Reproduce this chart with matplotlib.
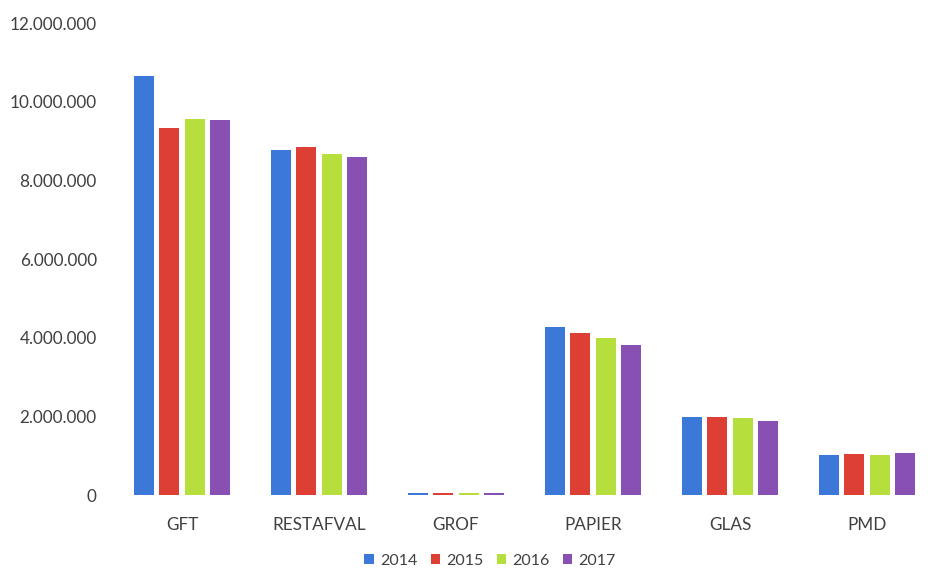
import matplotlib
matplotlib.use("Agg")
import matplotlib.pyplot as plt
import numpy as np
from matplotlib.ticker import FuncFormatter

categories = ["GFT", "RESTAFVAL", "GROF", "PAPIER", "GLAS", "PMD"]
years = ["2014", "2015", "2016", "2017"]
values_2014 = [10660000, 8780000, 60000, 4270000, 1980000, 1020000]
values_2015 = [9340000, 8860000, 40000, 4110000, 1980000, 1050000]
values_2016 = [9570000, 8680000, 50000, 4000000, 1950000, 1020000]
values_2017 = [9540000, 8600000, 40000, 3810000, 1880000, 1070000]
series = [values_2014, values_2015, values_2016, values_2017]
colors = ["#3C78D8", "#DD3F35", "#B6DE3C", "#8750B2"]

plt.rcParams["font.family"] = ["Lato", "DejaVu Sans"]

fig = plt.figure(figsize=(9.39, 5.69), dpi=100)
ax = fig.add_axes([113.5 / 939, 1 - 495 / 569, 822 / 939, (495 - 23) / 569])

x = np.arange(len(categories))
step = 0.187
width = 0.146
for i, (vals, yr, c) in enumerate(zip(series, years, colors)):
    ax.bar(x + (i - 1.5) * step, vals, width=width, color=c, label=yr)

ax.set_xlim(-0.5, len(categories) - 0.5)
ax.set_ylim(0, 12000000)
ax.set_yticks(np.arange(0, 12000001, 2000000))
ax.yaxis.set_major_formatter(FuncFormatter(lambda v, p: f"{int(v):,}".replace(",", ".")))
ax.set_xticks(x)
ax.set_xticklabels(categories)

for s in ax.spines.values():
    s.set_visible(False)
ax.tick_params(axis="both", length=0, colors="#404040", labelsize=12.3)
ax.tick_params(axis="x", pad=16)
ax.tick_params(axis="y", pad=12)

leg = fig.legend(loc="center", bbox_to_anchor=(0.522, 1 - 561 / 569), ncol=4,
                 frameon=False, fontsize=11.5, handlelength=0.6, handleheight=0.6,
                 columnspacing=0.8, handletextpad=0.4)
for t in leg.get_texts():
    t.set_color("#404040")

fig.savefig("out.png", dpi=100, facecolor="white")
